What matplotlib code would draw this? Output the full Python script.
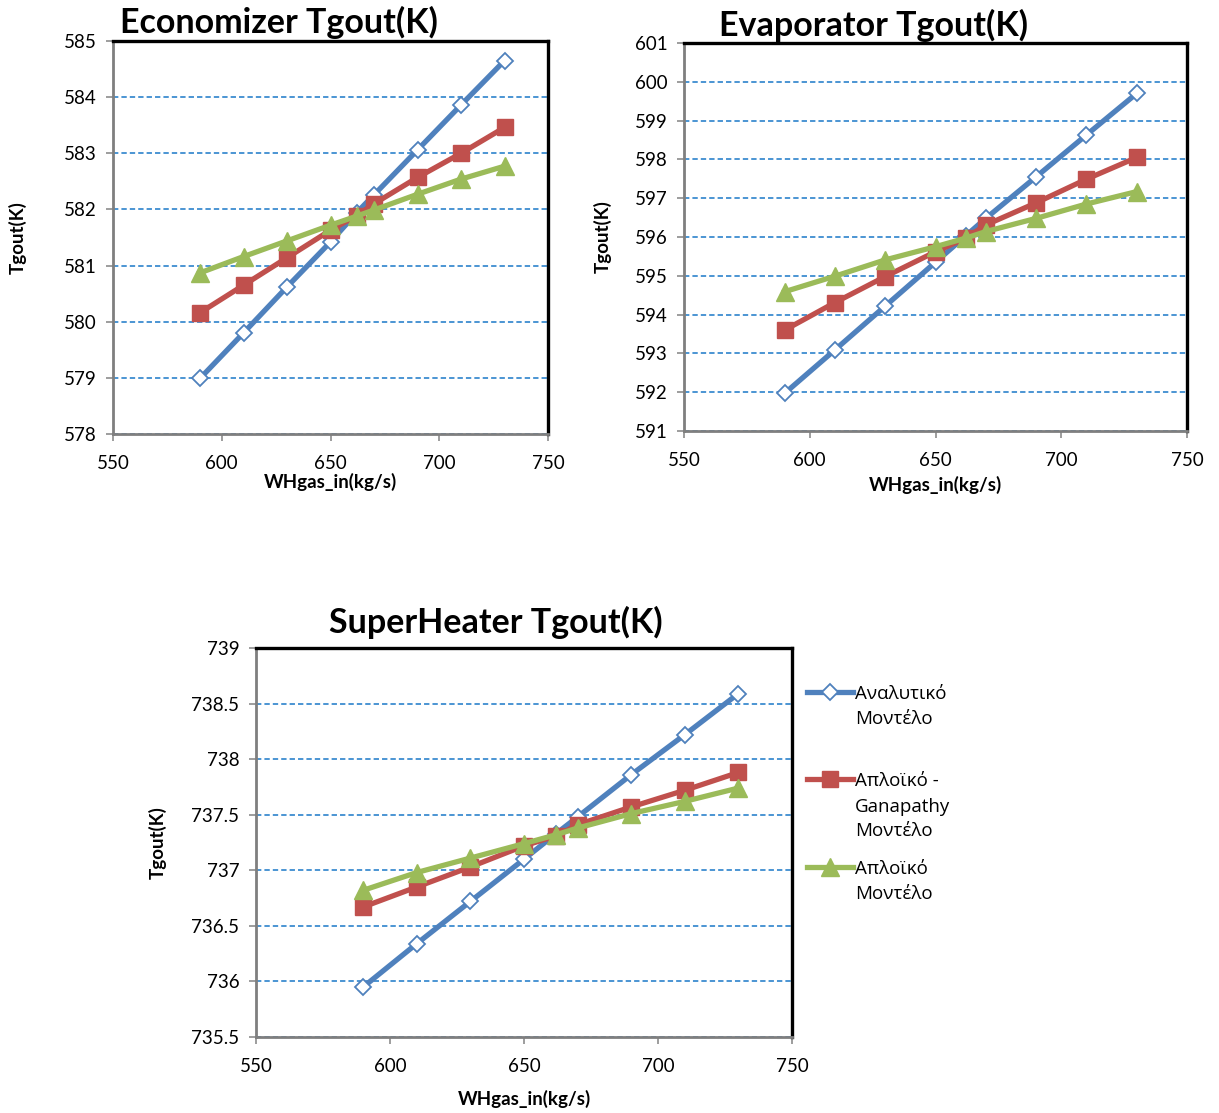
import matplotlib
matplotlib.use("Agg")
import matplotlib.pyplot as plt
from matplotlib.ticker import MultipleLocator, FormatStrFormatter

# ---- data -------------------------------------------------------------
wh_gas = [590, 610, 630, 650, 662, 670, 690, 710, 730]

econ_analytic = [578.99, 579.80, 580.62, 581.42, 581.94, 582.26, 583.06, 583.86, 584.65]
econ_ganapathy = [580.16, 580.65, 581.14, 581.63, 581.89, 582.10, 582.57, 583.00, 583.46]
econ_simple = [580.87, 581.16, 581.44, 581.72, 581.88, 581.99, 582.27, 582.54, 582.77]

evap_analytic = [591.97, 593.09, 594.22, 595.35, 596.03, 596.48, 597.55, 598.63, 599.70]
evap_ganapathy = [593.60, 594.31, 594.98, 595.62, 595.97, 596.31, 596.88, 597.49, 598.05]
evap_simple = [594.59, 594.99, 595.41, 595.75, 595.97, 596.14, 596.48, 596.85, 597.17]

sh_analytic = [735.95, 736.34, 736.72, 737.10, 737.33, 737.48, 737.86, 738.22, 738.59]
sh_ganapathy = [736.67, 736.85, 737.03, 737.22, 737.31, 737.41, 737.57, 737.72, 737.88]
sh_simple = [736.82, 736.98, 737.11, 737.24, 737.32, 737.38, 737.51, 737.62, 737.74]

series_labels = ["Αναλυτικό\nΜοντέλο\n ", "Απλοϊκό -\nGanapathy\nΜοντέλο", "Απλοϊκό\nΜοντέλο"]
titles = ["Economizer Tgout(K)", "Evaporator Tgout(K)", "SuperHeater Tgout(K)"]
x_label = "WHgas_in(kg/s)"
y_label = "Tgout(K)"

# ---- styling ----------------------------------------------------------
BLUE, RED, GREEN = "#4F81BD", "#C0504D", "#9BBB59"
GRID = "#1A78C8"
TICK_FONT = ["Lato", "DejaVu Sans"]
LEG_FONT = ["Open Sans", "DejaVu Sans"]

W, H = 1219, 1113
fig = plt.figure(figsize=(W / 100, H / 100), dpi=100)


def px_axes(left, top, right, bottom):
    return fig.add_axes([left / W, 1 - bottom / H, (right - left) / W, (bottom - top) / H])


def style_axes(ax, ylo, yhi, ystep, fmt, xlab_y, ylab_x):
    ax.set_xlim(550, 750)
    ax.set_ylim(ylo, yhi)
    ax.xaxis.set_major_locator(MultipleLocator(50))
    ax.yaxis.set_major_locator(MultipleLocator(ystep))
    ax.yaxis.set_major_formatter(FormatStrFormatter(fmt))
    ax.grid(axis="y", color=GRID, linestyle=(0, (3.5, 2)), linewidth=1.1)
    ax.set_axisbelow(True)
    for side in ("top", "right"):
        ax.spines[side].set_color("black")
        ax.spines[side].set_linewidth(2.4)
    for side in ("left", "bottom"):
        ax.spines[side].set_color("#7F7F7F")
        ax.spines[side].set_linewidth(2.0)
    ax.tick_params(direction="out", length=5, width=1.2, color="#8C8C8C",
                   labelsize=13.5)
    ax.tick_params(axis="x", pad=10)
    ax.tick_params(axis="y", pad=7)
    for t in ax.get_xticklabels() + ax.get_yticklabels():
        t.set_family(TICK_FONT)
    ax.set_xlabel(x_label, fontsize=13.5, fontweight="bold", family=TICK_FONT)
    ax.set_ylabel(y_label, fontsize=13.5, fontweight="bold", family=TICK_FONT)
    ax.xaxis.set_label_coords(0.5, xlab_y)
    ax.yaxis.set_label_coords(ylab_x, 0.5)


def draw_series(ax, a, g, s):
    h1, = ax.plot(wh_gas, a, color=BLUE, lw=3.8, marker="D", ms=8,
                  mfc="white", mec=BLUE, mew=1.3, zorder=3)
    h2, = ax.plot(wh_gas, g, color=RED, lw=3.8, marker="s", ms=11.5,
                  mfc=RED, mec=RED, zorder=4)
    h3, = ax.plot(wh_gas, s, color=GREEN, lw=3.8, marker="^", ms=12.5,
                  mfc=GREEN, mec=GREEN, zorder=5)
    return [h1, h2, h3]


# Economizer
ax1 = px_axes(113, 41, 548, 434)
draw_series(ax1, econ_analytic, econ_ganapathy, econ_simple)
style_axes(ax1, 578, 585, 1, "%g", -0.099, -0.198)

# Evaporator
ax2 = px_axes(684, 43, 1187, 431)
draw_series(ax2, evap_analytic, evap_ganapathy, evap_simple)
style_axes(ax2, 591, 601, 1, "%g", -0.116, -0.143)

# SuperHeater
ax3 = px_axes(256, 648, 792, 1037)
handles = draw_series(ax3, sh_analytic, sh_ganapathy, sh_simple)
style_axes(ax3, 735.5, 739, 0.5, "%g", -0.136, -0.166)

# Titles
title_pos = [(279, 22), (874, 25), (496, 622)]
for t, (px, py) in zip(titles, title_pos):
    fig.text(px / W, 1 - py / H, t, ha="center", va="center", fontsize=24.5,
             fontweight="bold", family=TICK_FONT)

# Legend to the right of the SuperHeater chart
leg = fig.legend(handles, series_labels, loc="upper left",
                 bbox_to_anchor=(807 / W, 1 - 685 / H), frameon=False,
                 borderpad=0, borderaxespad=0, handlelength=2.45,
                 handletextpad=0.12, labelspacing=1.04,
                 prop={"family": LEG_FONT, "size": 13.5})
for txt in leg.get_texts():
    txt.set_linespacing(1.5)
# align each swatch with the first line of its label
for col in leg._legend_handle_box.get_children():
    for row in col.get_children():
        row.align = "top"

fig.savefig("out.png", dpi=100, facecolor="white")
